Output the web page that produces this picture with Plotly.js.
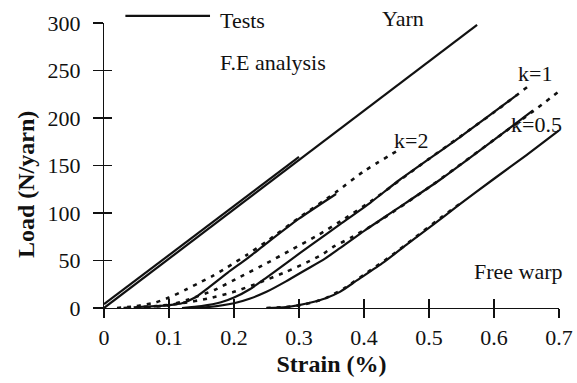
<!DOCTYPE html>
<html><head><meta charset="utf-8">
<script src="https://cdn.plot.ly/plotly-3.0.1.min.js"></script>
<style>html,body{margin:0;padding:0;background:#fff}</style>
</head><body>
<div id="chart" style="width:577px;height:383px"></div>
<script>
// Yarn
const yarnFeX = [0, 0.574];
const yarnFeY = [0, 298];
const yarnTestX = [0, 0.3];
const yarnTestY = [4, 159];
// k=2
const k2TestX = [0.05, 0.08, 0.1, 0.12, 0.14, 0.16, 0.19, 0.22, 0.25, 0.3, 0.357];
const k2TestY = [1, 2, 3, 5, 11, 21, 37, 52, 68, 94, 120];
const k2FeX = [0.02, 0.05, 0.08, 0.1, 0.125, 0.145, 0.168, 0.19, 0.22, 0.25, 0.3, 0.357, 0.4, 0.455];
const k2FeY = [0, 2, 6, 11, 19, 26, 34, 43, 56, 70, 95, 122, 144, 167];
// k=1
const k1TestX = [0.12, 0.15, 0.18, 0.2, 0.225, 0.25, 0.28, 0.32, 0.363, 0.41, 0.455, 0.55, 0.635];
const k1TestY = [0, 2, 6, 11, 20, 32, 47, 67, 88, 111, 135, 181, 224];
const k1FeX = [0.05, 0.1, 0.13, 0.17, 0.21, 0.25, 0.29, 0.33, 0.37, 0.41, 0.5, 0.6, 0.652];
const k1FeY = [0, 3, 9, 19, 33, 47, 62, 77, 94, 112, 157, 206, 233];
// k=0.5
const k05TestX = [0.13, 0.16, 0.2, 0.225, 0.25, 0.28, 0.31, 0.34, 0.363, 0.402, 0.45, 0.517, 0.6, 0.66];
const k05TestY = [0, 1, 5, 10, 17, 28, 40, 52, 63, 82, 104, 135, 177, 208];
const k05FeX = [0.03, 0.08, 0.12, 0.16, 0.2, 0.24, 0.28, 0.312, 0.335, 0.352, 0.38, 0.42, 0.5, 0.6, 0.66, 0.7];
const k05FeY = [0, 2, 5, 10, 17, 27, 38, 48, 56, 64, 74, 90, 127, 177, 207, 228];
// Free warp
const freeTestX = [0.25, 0.28, 0.3, 0.32, 0.34, 0.363, 0.389, 0.43, 0.468, 0.507, 0.545, 0.598, 0.65, 0.7];
const freeTestY = [0, 1, 3, 6, 10, 17, 29, 48, 68, 88, 108, 135, 161, 187];
const freeFeX = [0.25, 0.28, 0.31, 0.34, 0.37, 0.4, 0.44, 0.48, 0.52, 0.55];
const freeFeY = [0, 1, 4, 10, 21, 35, 54, 75, 96, 111];

const xTicks = [0, 0.1, 0.2, 0.3, 0.4, 0.5, 0.6, 0.7];
const xTickText = ['0', '0.1', '0.2', '0.3', '0.4', '0.5', '0.6', '0.7'];
const yTicks = [0, 50, 100, 150, 200, 250, 300];

const FONT = '"Times New Roman", "Liberation Serif", "DejaVu Serif", serif';
function solid(x, y) { return {x, y, mode: 'lines', type: 'scatter', line: {color: '#111', width: 2.2}, showlegend: false, hoverinfo: 'skip'}; }
function dashed(x, y) { return {x, y, mode: 'lines', type: 'scatter', line: {color: '#111', width: 2.6, dash: '4px,6px', shape: 'spline', smoothing: 0.6}, showlegend: false, hoverinfo: 'skip'}; }
function solidS(x, y) { const t = solid(x, y); t.line.shape = 'spline'; t.line.smoothing = 0.6; return t; }

const data = [
  solid(yarnFeX, yarnFeY), solid(yarnTestX, yarnTestY),
  dashed(k2FeX, k2FeY), solidS(k2TestX, k2TestY),
  dashed(k1FeX, k1FeY), solidS(k1TestX, k1TestY),
  dashed(k05FeX, k05FeY), solidS(k05TestX, k05TestY),
  dashed(freeFeX, freeFeY), solidS(freeTestX, freeTestY),
  {x: [null], y: [null], xaxis: 'x2', yaxis: 'y2', mode: 'lines', showlegend: false, hoverinfo: 'skip'}
];

const axCommon = {showgrid: false, zeroline: false, color: '#111', tickwidth: 1.2, linewidth: 1.2};
const layout = {
  width: 577, height: 383,
  margin: {l: 104, r: 18, t: 23, b: 75},
  paper_bgcolor: '#fff', plot_bgcolor: '#fff',
  font: {family: FONT, size: 22, color: '#111'},
  xaxis: Object.assign({}, axCommon, {range: [0, 0.7], tickvals: xTicks, ticktext: xTickText, ticks: 'outside', ticklen: 9, showline: true,
    tickfont: {family: FONT, size: 22}, title: {text: '<b>Strain (%)</b>', font: {family: FONT, size: 24}, standoff: 6}}),
  yaxis: Object.assign({}, axCommon, {range: [0, 300], tickvals: yTicks, ticks: 'outside', ticklen: 10, showline: true, ticklabelstandoff: 8,
    tickfont: {family: FONT, size: 22}}),
  xaxis2: Object.assign({}, axCommon, {range: [0, 0.7], overlaying: 'x', anchor: 'y2', side: 'bottom', tickvals: xTicks, ticks: 'inside', ticklen: 9, showticklabels: false, showline: false}),
  yaxis2: Object.assign({}, axCommon, {range: [0, 300], overlaying: 'y', anchor: 'x2', side: 'left', tickvals: yTicks, ticks: 'inside', ticklen: 8, showticklabels: false, showline: false}),
  shapes: [
    {type: 'line', xref: 'paper', yref: 'paper', x0: 0.047, x1: 0.233, y0: 1.025, y1: 1.025, line: {color: '#111', width: 2.2}}
  ],
  annotations: [
    {text: '<b>Load (N/yarn)</b>', xref: 'paper', yref: 'paper', x: -0.171, y: 0.432, xanchor: 'center', yanchor: 'middle', textangle: -90, showarrow: false, font: {family: FONT, size: 24}},
    {text: 'Tests', xref: 'paper', yref: 'paper', x: 0.25, y: 1.0105, xanchor: 'left', yanchor: 'middle', showarrow: false, font: {family: FONT, size: 22}},
    {text: 'F.E analysis', xref: 'paper', yref: 'paper', x: 0.25, y: 0.86, xanchor: 'left', yanchor: 'middle', showarrow: false, font: {family: FONT, size: 22}},
    {text: 'Yarn', xref: 'x', yref: 'paper', x: 0.46, y: 1.0175, xanchor: 'center', yanchor: 'middle', showarrow: false, font: {family: FONT, size: 22}},
    {text: 'k=2', xref: 'x', yref: 'y', x: 0.472, y: 176, showarrow: false, font: {family: FONT, size: 22}},
    {text: 'k=1', xref: 'x', yref: 'y', x: 0.663, y: 247, showarrow: false, font: {family: FONT, size: 22}},
    {text: 'k=0.5', xref: 'x', yref: 'y', x: 0.666, y: 193, showarrow: false, font: {family: FONT, size: 22}},
    {text: 'Free warp', xref: 'x', yref: 'y', x: 0.637, y: 38, showarrow: false, font: {family: FONT, size: 22}}
  ]
};
Plotly.newPlot('chart', data, layout, {staticPlot: true, displayModeBar: false});
</script>
</body></html>
